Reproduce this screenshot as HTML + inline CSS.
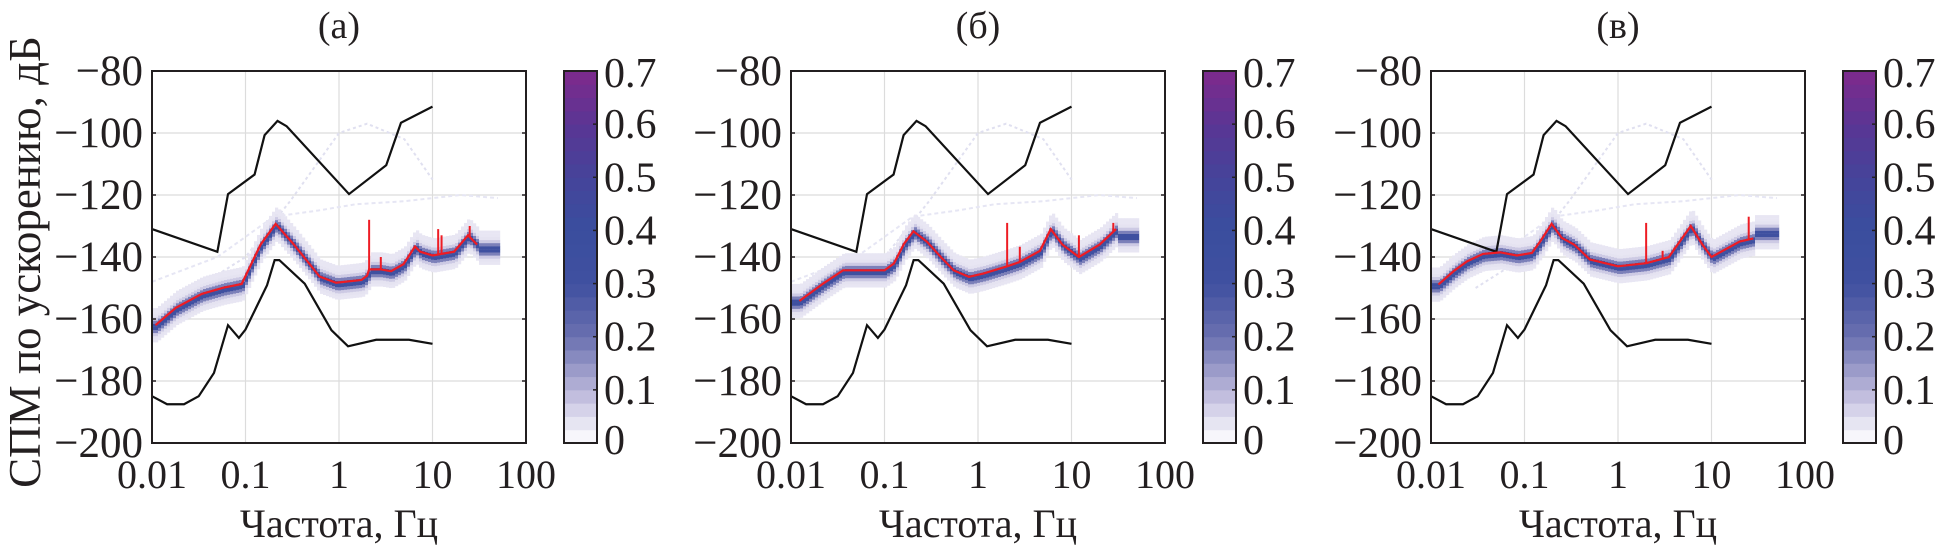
<!DOCTYPE html>
<html><head><meta charset="utf-8"><style>
html,body{margin:0;padding:0;background:#fff}
svg{display:block}
text{font-family:"Liberation Serif",serif;fill:#231f20}
</style></head><body>
<svg id="fig" width="1938" height="550" viewBox="0 0 1938 550" xmlns="http://www.w3.org/2000/svg"></svg>
<script>
const NS="http://www.w3.org/2000/svg";
const panelTitles=["(a)","(б)","(в)"];
const yTicks=[-80,-100,-120,-140,-160,-180,-200];
const yTickLabels=["−80","−100","−120","−140","−160","−180","−200"];
const xTicks=[0.01,0.1,1,10,100];
const xTickLabels=["0.01","0.1","1","10","100"];
const cbTicks=[0,0.1,0.2,0.3,0.4,0.5,0.6,0.7];
const upperF=[0.01,0.05,0.065,0.125,0.16,0.22,0.275,1.28,3.2,4.6,10];
const upperDb=[-131,-138.3,-119.7,-113.4,-100.7,-96.1,-97.8,-119.7,-110.4,-96.7,-91.5];
const lowerF=[0.01,0.0145,0.022,0.0316,0.046,0.065,0.085,0.1,0.17,0.205,0.23,0.43,0.83,1.25,2.5,5.6,10];
const lowerDb=[-184.9,-187.5,-187.5,-184.9,-177.4,-162,-166.1,-163.4,-149.1,-141,-141,-148.6,-163.6,-168.8,-166.7,-166.7,-168];
const redFA=[0.0109,0.018,0.034,0.058,0.091,0.145,0.21,0.33,0.62,0.93,1.74,2.0,2.1,2.8,3.6,4.9,6.5,7.4,10,17,24,30];
const redDbA=[-162,-156.4,-151.9,-149.9,-148.7,-136,-129.3,-136,-146.3,-148.3,-147.4,-146,-144,-144,-144.6,-142.3,-136.6,-138.3,-139.5,-138.3,-133,-136];
const spikesFA=[2.1,2.8,11.5,12.5,25];
const spikesDbA=[-128,-140,-131,-133,-130];
const redFB=[0.0123,0.022,0.036,0.1,0.126,0.162,0.204,0.285,0.4,0.55,0.8,1.15,2.05,2.8,4.6,6,8,12,20,30];
const redDbB=[-154.2,-148.6,-144.3,-144.3,-142.1,-135.7,-131.7,-135.1,-140,-144.3,-146.4,-145.3,-143,-141.6,-138,-131,-136,-140,-136,-131];
const spikesFB=[2.05,2.8,12,28];
const spikesDbB=[-129,-136.7,-133,-129];
const redFC=[0.012,0.0174,0.0243,0.036,0.055,0.083,0.12,0.148,0.195,0.25,0.34,0.5,1,2,3.5,6,8,10,20,28];
const redDbC=[-148.9,-144.6,-141.4,-139,-138.5,-139.5,-138.7,-134.9,-129.3,-133.8,-136,-140.8,-143,-142,-140,-130,-136,-140,-135,-134];
const spikesFC=[2,3,4,25];
const spikesDbC=[-129,-138,-137,-127];
const tailDb=[-137,-133,-132];
const panelX=[152,791,1431];
const PW=374,PT=71,PB=443;
const fig=document.getElementById('fig');
function el(tag,attrs,parent){const e=document.createElementNS(NS,tag);for(const k in attrs)e.setAttribute(k,attrs[k]);(parent||fig).appendChild(e);return e;}
function xs(x0,f){return x0+(Math.log10(f)+2)*PW/4;}
function ys(db){return PT+(-80-db)*(PB-PT)/120;}
function interp(F,D,f){if(f<=F[0])return D[0];for(let i=1;i<F.length;i++){if(f<=F[i]){const t=(Math.log10(f)-Math.log10(F[i-1]))/(Math.log10(F[i])-Math.log10(F[i-1]));return D[i-1]+t*(D[i]-D[i-1]);}}return D[D.length-1];}
function cmap(v){const st=[[0,255,255,255],[0.05,222,220,238],[0.1,184,180,216],[0.2,106,112,176],[0.3,64,80,160],[0.4,58,78,158],[0.5,69,68,154],[0.6,90,53,148],[0.7,126,42,140]];for(let i=1;i<st.length;i++){if(v<=st[i][0]){const a=st[i-1],b=st[i],t=(v-a[0])/(b[0]-a[0]);return `rgb(${Math.round(a[1]+t*(b[1]-a[1]))},${Math.round(a[2]+t*(b[2]-a[2]))},${Math.round(a[3]+t*(b[3]-a[3]))})`;}}return 'rgb(126,42,140)';}
const reds=[[redFA,redDbA,spikesFA,spikesDbA],[redFB,redDbB,spikesFB,spikesDbB],[redFC,redDbC,spikesFC,spikesDbC]];
for(let p=0;p<3;p++){
  const x0=panelX[p];
  const g=el('g',{});
  
  
  const t=el('text',{x:x0+PW/2,y:38,'font-size':38,'text-anchor':'middle'},g);t.textContent=panelTitles[p];
  
  for(const v of yTicks){if(v===-80||v===-200)continue;const l=el('line',{x1:x0,x2:x0+PW,y1:ys(v),y2:ys(v),stroke:'#dcdcdc','stroke-width':1.2},g);}
  for(const v of xTicks){if(v===0.01||v===100)continue;const l=el('line',{x1:xs(x0,v),x2:xs(x0,v),y1:PT,y2:PB,stroke:'#dcdcdc','stroke-width':1.2},g);}
  const [RF,RD,SF,SD]=reds[p];
  const faint=[[0.03,0.1,0.3,1,2,5,10],[-150,-140,-122,-100,-97,-102,-115]];
  const pts=faint[0].map((f,i)=>xs(x0,f)+','+ys(faint[1][i])).join(' ');
  const ft=el('polyline',{points:pts,fill:'none',stroke:'#e0e0f0','stroke-width':2,'stroke-dasharray':'3 3'},g);
  
  const faint2=[[0.01,0.05,0.2,0.6,1.5,5,20,50],[-148,-140,-127,-125,-123,-122,-120,-121]];
  const pts2=faint2[0].map((f,i)=>xs(x0,f)+','+ys(faint2[1][i])).join(' ');
  const ft2=el('polyline',{points:pts2,fill:'none',stroke:'#e6e6f4','stroke-width':2,'stroke-dasharray':'4 3'},g);
  
  const hg=el('g',{},g);
  for(let px=x0;px<xs(x0,50);px+=3){
    const f=Math.pow(10,(px-x0)/(PW/4)-2);
    let c=f>RF[RF.length-1]?tailDb[p]:interp(RF,RD,f);
    for(let d=-7;d<=7;d+=1){
      const w=Math.exp(-(d+0.5)*(d+0.5)/3);
      const v=0.3*w+0.035;
      if(Math.abs(d)>5&&v<0.05)continue;
      el('rect',{x:px,y:ys(c+d)-1.6,width:3.2,height:3.3,fill:cmap(v)},hg);
    }
  }
  const up=el('polyline',{points:upperF.map((f,i)=>xs(x0,f)+','+ys(upperDb[i])).join(' '),fill:'none',stroke:'#111','stroke-width':2.2},g);
  
  const lo=el('polyline',{points:lowerF.map((f,i)=>xs(x0,f)+','+ys(lowerDb[i])).join(' '),fill:'none',stroke:'#111','stroke-width':2.2},g);
  
  const rl=el('polyline',{points:RF.map((f,i)=>xs(x0,f)+','+ys(RD[i])).join(' '),fill:'none',stroke:'#ee1c24','stroke-width':2.2},g);
  
  for(let i=0;i<SF.length;i++){const base=interp(RF,RD,SF[i]);const s=el('line',{x1:xs(x0,SF[i]),x2:xs(x0,SF[i]),y1:ys(base),y2:ys(SD[i]),stroke:'#ee1c24','stroke-width':2},g);}
  const bx=el('rect',{x:x0,y:PT,width:PW,height:PB-PT,fill:'none',stroke:'#231f20','stroke-width':2},g);
  
  yTicks.forEach((v,i)=>{const tt=el('text',{x:x0-9,y:ys(v)+14,'font-size':43,'text-anchor':'end'},g);tt.textContent=yTickLabels[i];
    el('line',{x1:x0,x2:x0+4,y1:ys(v),y2:ys(v),stroke:'#231f20','stroke-width':1.5},g);el('line',{x1:x0+PW-4,x2:x0+PW,y1:ys(v),y2:ys(v),stroke:'#231f20','stroke-width':1.5},g);});
  xTicks.forEach((v,i)=>{const tt=el('text',{x:xs(x0,v),y:488,'font-size':40,'text-anchor':'middle'},g);tt.textContent=xTickLabels[i];});
  const xl=el('text',{x:x0+PW/2,y:537,'font-size':40,'text-anchor':'middle'},g);xl.textContent='Частота, Гц';
  
  const cx=x0+PW+38,cw=33;
  const cb=el('g',{},g);
  const nb=28,bh=(PB-PT)/nb;
  for(let k=0;k<nb;k++){el('rect',{x:cx,y:PB-(k+1)*bh,width:cw,height:bh+0.5,fill:cmap((k+0.5)*0.025)},cb);}
  el('rect',{x:cx,y:PT,width:cw,height:PB-PT,fill:'none',stroke:'#231f20','stroke-width':2},cb);
  cbTicks.forEach(v=>{const yy=PB-v/0.7*(PB-PT);el('line',{x1:cx+cw-4,x2:cx+cw,y1:yy,y2:yy,stroke:'#231f20','stroke-width':1.5},cb);
    const tt=el('text',{x:cx+cw+7,y:yy+14+(v===0?-3:0)+(v===0.7?2:0),'font-size':42},cb);tt.textContent=String(v);});
}
const yl=el('text',{x:0,y:0,'font-size':45,'text-anchor':'middle',transform:'translate(40,262) rotate(-90)'});
yl.textContent='СПМ по ускорению, дБ';


</script>
</body></html>
